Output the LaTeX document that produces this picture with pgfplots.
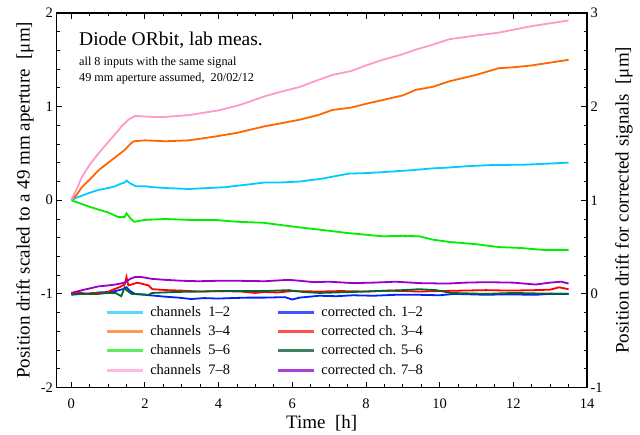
\documentclass[border=0pt]{standalone}
\usepackage{fontspec}
\setmainfont{Liberation Serif}
\usepackage{pgfplots}
\pgfplotsset{compat=1.18}

\definecolor{chA}{RGB}{0,204,255}
\definecolor{chB}{RGB}{255,102,0}
\definecolor{chC}{RGB}{0,238,0}
\definecolor{chD}{RGB}{255,153,204}
\definecolor{coA}{RGB}{0,34,255}
\definecolor{coB}{RGB}{255,0,0}
\definecolor{coC}{RGB}{0,102,51}
\definecolor{coD}{RGB}{153,0,204}
% lighter tones used by the legend swatches
\definecolor{lgA}{RGB}{90,215,255}
\definecolor{lgB}{RGB}{255,150,90}
\definecolor{lgC}{RGB}{90,240,90}
\definecolor{lgD}{RGB}{255,185,220}
\definecolor{lgE}{RGB}{70,80,255}
\definecolor{lgF}{RGB}{255,80,80}
\definecolor{lgG}{RGB}{60,130,95}
\definecolor{lgH}{RGB}{170,60,215}

\tikzset{drift/.style={line width=1.8pt}}
\newcommand\labelfont{\fontsize{19}{22}\selectfont}
\newcommand\swatch[1]{\addlegendimage{legend image code/.code={\fill[#1] (0pt,-1pt) rectangle (35pt,1pt);}}}

\pgfplotsset{
  frame/.style={
    scale only axis,
    width=530.5pt, height=374.5pt,
    xmin=-0.4, xmax=14,
    tick align=inside,
    major tick length=6pt,
    minor tick length=3.5pt,
    every tick/.style={black, line width=0.9pt},
    axis line style={line width=1.1pt},
    /pgf/number format/assume math mode=true,
    ticklabel style={font=\fontsize{14.5}{16}\selectfont},
    no markers,
  },
}

\begin{document}
\begin{tikzpicture}
% left scale: raw channel pairs
\begin{axis}[
  frame,
  ymin=-2, ymax=2,
  xtick={0,2,...,14}, minor x tick num=3,
  ytick={-2,-1,0,1,2}, minor y tick num=4,
  xtick pos=both, ytick pos=left,
  xticklabel shift=8pt,
  xlabel={Time\ \ [h]},
  ylabel={Position drift scaled to a 49 mm aperture\ \ [μm]},
  every axis x label/.style={at={(axis description cs:0.5,-0.0948)}, anchor=center, font=\labelfont},
  every axis y label/.style={at={(axis description cs:-0.0594,0.5)}, anchor=center, rotate=90, font=\labelfont},
]
\addplot[drift, chA] coordinates {
(0,0) (0.15,0.03) (0.3,0.05) (0.5,0.08) (0.74,0.11) (1.0,0.13) (1.2,0.15) (1.3,0.17)
(1.45,0.19) (1.5,0.21) (1.6,0.18) (1.75,0.15) (2.0,0.15) (2.2,0.14) (2.6,0.13)
(2.9,0.125) (3.2,0.12) (3.7,0.13) (4.2,0.14) (4.5,0.155) (4.85,0.17) (5.25,0.19)
(5.7,0.19) (6.2,0.20) (6.8,0.23) (7.2,0.26) (7.55,0.285) (8.0,0.29) (8.45,0.30)
(9.2,0.32) (9.8,0.34) (10.26,0.35) (10.8,0.365) (11.35,0.375) (12.3,0.38)
(12.9,0.39) (13.4,0.40) (13.5,0.40)
};
\addplot[drift, chB] coordinates {
(0,0) (0.15,0.06) (0.29,0.14) (0.5,0.22) (0.74,0.32) (1.0,0.40) (1.2,0.46)
(1.46,0.54) (1.6,0.60) (1.7,0.63) (2.0,0.64) (2.55,0.63) (3.2,0.64) (3.9,0.68)
(4.5,0.72) (5.25,0.79) (5.8,0.83) (6.2,0.86) (6.7,0.91) (7.1,0.965) (7.6,0.99)
(8.0,1.03) (8.45,1.07) (9.0,1.12) (9.36,1.18) (9.8,1.21) (10.26,1.27) (11.0,1.34)
(11.6,1.41) (12.0,1.42) (12.5,1.44) (13.0,1.47) (13.5,1.50)
};
\addplot[drift, chC] coordinates {
(0,0) (0.29,-0.04) (0.5,-0.07) (0.74,-0.10) (1.0,-0.13) (1.28,-0.18) (1.45,-0.18)
(1.5,-0.14) (1.6,-0.19) (1.71,-0.23) (2.0,-0.21) (2.55,-0.20) (3.2,-0.21)
(3.9,-0.21) (4.5,-0.23) (5.2,-0.24) (5.8,-0.27) (6.2,-0.29) (6.65,-0.31)
(7.5,-0.35) (8.45,-0.385) (9.0,-0.38) (9.45,-0.385) (9.8,-0.42) (10.26,-0.445)
(11.0,-0.47) (11.6,-0.50) (12.2,-0.51) (12.8,-0.53) (13.5,-0.53)
};
\addplot[drift, chD] coordinates {
(0,0) (0.15,0.12) (0.29,0.25) (0.5,0.38) (0.74,0.50) (1.0,0.62) (1.2,0.71)
(1.37,0.79) (1.55,0.86) (1.73,0.90) (2.2,0.89) (2.55,0.89) (3.2,0.91) (4.0,0.96)
(4.6,1.02) (5.25,1.11) (5.7,1.16) (6.2,1.21) (6.6,1.27) (7.1,1.34) (7.6,1.38)
(8.0,1.44) (8.45,1.50) (9.0,1.56) (9.36,1.61) (9.8,1.66) (10.26,1.72)
(11.0,1.76) (11.6,1.79) (12.5,1.86) (13.0,1.89) (13.5,1.92)
};
\node[anchor=base west, inner sep=0pt, font=\fontsize{19.5}{22}\selectfont]
  at (rel axis cs:0.0424,0.912) {Diode ORbit, lab meas.};
\node[anchor=base west, inner sep=0pt, font=\fontsize{12.2}{14}\selectfont]
  at (rel axis cs:0.0424,0.859) {all 8 inputs with the same signal};
\node[anchor=base west, inner sep=0pt, font=\fontsize{12.2}{14}\selectfont]
  at (rel axis cs:0.0424,0.816) {49 mm aperture assumed,\ \ 20/02/12};
\end{axis}

% right scale: corrected signals
\begin{axis}[
  frame,
  ymin=-1, ymax=3,
  axis x line=none,
  axis y line*=right,
  ytick={-1,0,1,2,3}, minor y tick num=4,
  ylabel={Position drift for corrected signals\ \ [μm]},
  every axis y label/.style={at={(axis description cs:1.0697,0.5)}, anchor=center, rotate=90, font=\labelfont},
  legend columns=2,
  legend cell align=left,
  legend style={
    at={(axis description cs:0.0946,0.222)}, anchor=north west,
    draw=none, fill=none, inner sep=0pt,
    font=\fontsize{14.5}{17}\selectfont,
    row sep=3.6pt,
    /tikz/every odd column/.append style={column sep=6pt},
    /tikz/every even column/.append style={column sep=46pt},
  },
]
\swatch{lgA}
\addplot[drift, coA, forget plot] coordinates {
(0,0.00) (0.3,0.005) (0.5,0.0) (0.74,0.015) (1.0,0.02) (1.2,0.03) (1.4,0.05)
(1.5,0.07) (1.6,0.03) (1.73,0.0) (2.0,-0.01) (2.55,-0.03) (2.9,-0.04) (3.26,-0.055)
(3.6,-0.045) (4.0,-0.05) (4.35,-0.045) (4.8,-0.04) (5.25,-0.04) (5.8,-0.035)
(6.0,-0.06) (6.2,-0.04) (6.74,-0.02) (7.2,-0.025) (7.64,-0.015) (8.2,-0.02)
(8.8,-0.01) (9.45,-0.01) (10.0,-0.015) (10.4,0.0) (11.26,-0.01) (11.8,-0.005)
(12.6,-0.01) (13.0,0.0) (13.5,0.0)
};
\swatch{lgE}
\swatch{lgB}
\addplot[drift, coB, forget plot] coordinates {
(0,0.0) (0.2,0.02) (0.38,0.0) (0.6,0.01) (0.92,0.01) (1.1,0.04) (1.3,0.07)
(1.45,0.10) (1.5,0.18) (1.55,0.09) (1.64,0.10) (1.8,0.12) (2.0,0.10) (2.1,0.09)
(2.2,0.05) (2.6,0.04) (3.0,0.035) (3.45,0.025) (4.0,0.03) (4.6,0.025) (5.0,0.01)
(5.25,0.02) (5.6,0.015) (6.0,0.03) (6.74,0.025) (7.3,0.03) (8.0,0.025)
(8.6,0.035) (9.45,0.025) (10.0,0.03) (10.6,0.035) (11.26,0.04) (11.9,0.035)
(12.6,0.04) (13.0,0.045) (13.24,0.07) (13.5,0.05)
};
\swatch{lgF}
\swatch{lgC}
\addplot[drift, coC, forget plot] coordinates {
(0,-0.01) (0.3,0.0) (0.74,0.0) (1.0,0.01) (1.2,0.01) (1.36,-0.025) (1.45,0.07)
(1.5,0.04) (1.64,0.0) (1.9,-0.005) (2.1,-0.01) (2.2,0.01) (2.8,0.02) (3.45,0.025)
(4.2,0.03) (5.25,0.03) (5.9,0.04) (6.3,0.02) (6.74,0.01) (7.64,0.02) (8.3,0.03)
(9.0,0.04) (9.45,0.05) (9.9,0.04) (10.3,0.01) (11.26,0.0) (12.0,0.01)
(12.6,0.005) (13.5,0.0)
};
\swatch{lgG}
\swatch{lgD}
\addplot[drift, coD, forget plot] coordinates {
(0,0.01) (0.3,0.04) (0.74,0.08) (1.0,0.09) (1.2,0.10) (1.45,0.12) (1.6,0.16)
(1.73,0.18) (1.9,0.18) (2.2,0.16) (2.55,0.15) (3.0,0.14) (3.45,0.135) (4.0,0.14)
(4.5,0.14) (5.25,0.135) (5.9,0.15) (6.2,0.14) (6.6,0.125) (7.0,0.13) (7.64,0.115)
(8.2,0.12) (8.8,0.13) (9.45,0.115) (10.2,0.11) (10.7,0.12) (11.26,0.125)
(12.0,0.12) (12.6,0.10) (13.0,0.12) (13.3,0.13) (13.5,0.11)
};
\swatch{lgH}
\legend{channels\ \ 1--2, corrected ch. 1--2,
        channels\ \ 3--4, corrected ch. 3--4,
        channels\ \ 5--6, corrected ch. 5--6,
        channels\ \ 7--8, corrected ch. 7--8}
\end{axis}
\pgfresetboundingbox
\path ([shift={(-56.5pt,-46.5pt)}]current axis.south west)
  rectangle ([shift={(53pt,13pt)}]current axis.north east);
\end{tikzpicture}
\end{document}
